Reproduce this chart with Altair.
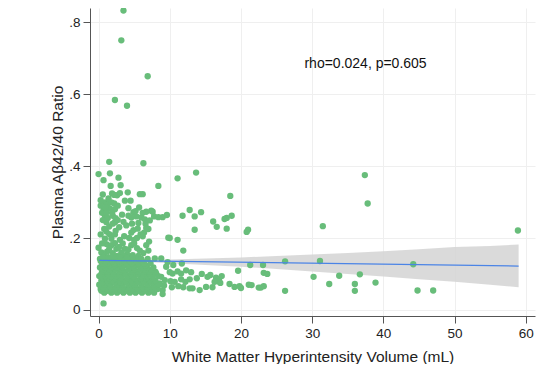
import altair as alt
import pandas as pd

FONT = "Liberation Sans"

# ---- scatter points: WMH volume (mL) and plasma Abeta42/40 ratio ----
high_x = [3.5, 3.2, 6.9, 2.3, 4.0, 1.5, 6.3, 0.0, 1.6, 2.8, 0.7, 8.4, 11.1, 13.7, 1.7, 3.1,
          0.6, 1.9, 2.6, 4.1, 5.8, 6.2, 18.5, 3.0, 2.2]
high_y = [0.833, 0.75, 0.65, 0.584, 0.568, 0.412, 0.408, 0.378, 0.380, 0.368, 0.361, 0.345, 0.366, 0.382, 0.345, 0.347,
          0.321, 0.324, 0.319, 0.327, 0.322, 0.322, 0.317, 0.325, 0.320]

mid_x = [0.9, 1.3, 1.8, 2.2, 3.7, 4.5,
         0.7, 1.6, 2.3, 4.2, 4.9, 7.4, 6.7, 7.6,
         0.9, 1.3, 2.0, 2.4, 4.2, 4.6, 5.3, 6.0, 6.5, 7.2, 8.4,
         1.1, 2.3, 4.7, 5.6, 0.5, 1.1, 1.9,
         0.8, 1.1, 1.5, 2.4, 2.9, 4.6, 4.9, 5.5, 6.4, 6.7, 7.0,
         0.9, 1.8, 2.3, 3.0, 5.0, 5.4, 5.9, 6.2,
         1.1, 1.8, 2.3, 0.0, 4.6, 5.0, 3.7, 2.5, 5.8, 6.7, 7.1,
         0.4, 1.2, 2.0, 3.2, 4.0, 6.3, 7.0,
         9.0, 9.6, 9.8, 11.1, 11.9, 10.0,
         11.8, 12.8, 13.5, 14.4, 13.5, 16.1, 16.6, 17.7, 18.0, 18.7, 18.0, 21.0, 20.8,
         0.3, 0.6, 0.3, 0.5, 1.5, 2.0, 2.7, 3.3, 3.5, 3.9, 5.2, 5.7, 6.2, 6.6, 7.8,
         3.6, 4.3, 3.4, 2.9, 4.2, 5.4, 1.5, 0.8, 2.6, 3.6, 4.8, 5.6, 1.4, 0.3, 2.7, 1.0]
mid_y = [0.299, 0.295, 0.299, 0.296, 0.304, 0.304,
         0.280, 0.282, 0.280, 0.283, 0.272, 0.276, 0.273, 0.273,
         0.262, 0.256, 0.262, 0.255, 0.262, 0.257, 0.260, 0.257, 0.252, 0.249, 0.258,
         0.244, 0.244, 0.240, 0.242, 0.270, 0.270, 0.270,
         0.225, 0.218, 0.211, 0.220, 0.230, 0.215, 0.222, 0.226, 0.215, 0.228, 0.225,
         0.198, 0.198, 0.210, 0.195, 0.195, 0.200, 0.210, 0.205,
         0.183, 0.180, 0.186, 0.173, 0.180, 0.185, 0.170, 0.170, 0.165, 0.180, 0.190,
         0.160, 0.162, 0.158, 0.160, 0.155, 0.158, 0.165,
         0.258, 0.264, 0.201, 0.195, 0.165, 0.200,
         0.262, 0.278, 0.260, 0.272, 0.223, 0.246, 0.231, 0.253, 0.256, 0.262, 0.226, 0.223, 0.217,
         0.290, 0.250, 0.210, 0.185, 0.232, 0.240, 0.250, 0.265, 0.245, 0.235, 0.275, 0.285, 0.270, 0.240, 0.260,
         0.205, 0.200, 0.185, 0.175, 0.168, 0.172, 0.170, 0.150, 0.150, 0.150, 0.152, 0.150, 0.310, 0.305, 0.290, 0.285]

far_x = [37.4, 37.8, 31.5, 58.9,
         26.2, 31.1, 44.2, 23.1, 21.3, 23.2, 23.7, 30.2, 33.8, 36.7, 32.4, 36.0, 36.0, 38.9, 26.2,
         21.5, 22.8, 23.2, 44.8, 47.0,
         19.6, 15.7, 16.5, 16.9, 17.3, 16.8, 16.3, 17.1, 18.4, 19.1, 19.8, 20.0, 21.1, 22.5, 16.0,
         14.2, 13.2, 15.1, 15.3, 11.7]
far_y = [0.375, 0.296, 0.233, 0.221,
         0.135, 0.136, 0.127, 0.125, 0.125, 0.103, 0.100, 0.092, 0.095, 0.099, 0.072, 0.072, 0.053, 0.076, 0.053,
         0.069, 0.062, 0.066, 0.054, 0.054,
         0.109, 0.097, 0.090, 0.085, 0.094, 0.080, 0.078, 0.075, 0.072, 0.064, 0.066, 0.061, 0.070, 0.062, 0.063,
         0.055, 0.060, 0.064, 0.092, 0.129]

low_x = [8.8, 9.7, 7.9, 7.6, 8.1, 8.8, 7.9, 8.6, 9.3, 8.1, 9.0, 9.0,
         10.0, 10.4, 11.1, 11.6, 12.3, 13.0,
         10.1, 10.7, 11.6, 12.2, 12.8,
         10.3, 11.2, 11.9, 12.8, 9.5, 10.5, 9.2, 13.8, 14.5, 0.7]
low_y = [0.143, 0.133, 0.143, 0.110, 0.101, 0.092, 0.078, 0.074, 0.083, 0.060, 0.055, 0.044,
         0.105, 0.101, 0.107, 0.101, 0.110, 0.105,
         0.080, 0.078, 0.085, 0.078, 0.085,
         0.063, 0.066, 0.063, 0.060, 0.120, 0.125, 0.068, 0.088, 0.100, 0.018]

# dense cluster, read row by row
blob_rows = {
    0.048: [0.8, 1.8, 2.6, 3.5, 4.4, 5.2, 6.1, 7.0, 7.8],
    0.053: [0.4, 1.3, 2.2, 3.1, 4.0, 4.8, 5.6, 6.5, 7.4],
    0.058: [0.3, 1.2, 2.1, 3.0, 3.9, 4.8, 5.7, 6.5, 7.4, 8.3],
    0.064: [0.6, 1.6, 2.5, 3.4, 4.3, 5.2, 6.1, 6.9, 7.8],
    0.070: [0.1, 0.9, 1.7, 2.6, 3.4, 4.3, 5.1, 6.0, 6.9, 7.7, 8.5],
    0.076: [0.5, 1.4, 2.2, 3.1, 4.0, 4.8, 5.8, 6.6, 7.5],
    0.082: [0.4, 1.2, 2.0, 2.9, 3.8, 4.6, 5.5, 6.3, 7.2, 8.0],
    0.088: [0.6, 1.5, 2.4, 3.2, 4.1, 5.0, 5.9, 6.7, 7.6],
    0.094: [0.1, 0.9, 1.7, 2.5, 3.3, 4.2, 5.0, 5.9, 6.8, 7.6, 8.4],
    0.100: [0.4, 1.3, 2.1, 2.9, 3.7, 4.6, 5.5, 6.3, 7.2],
    0.106: [0.5, 1.3, 2.1, 3.0, 3.8, 4.7, 5.5, 6.4, 7.2, 8.0],
    0.112: [0.7, 1.6, 2.4, 3.3, 4.2, 5.0, 5.9, 6.6, 7.5],
    0.118: [0.2, 1.0, 1.8, 2.6, 3.4, 4.3, 5.1, 6.0, 6.8, 7.7],
    0.124: [0.6, 1.5, 2.3, 3.2, 4.0, 4.9, 5.7, 6.6],
    0.130: [0.5, 1.3, 2.2, 3.0, 3.9, 4.7, 5.6, 6.4, 7.3],
    0.136: [0.3, 1.1, 1.9, 2.8, 3.6, 4.4, 5.3, 6.1],
    0.142: [0.2, 1.0, 1.8, 2.6, 3.5, 4.3, 5.2, 6.0, 6.9],
    0.147: [0.6, 1.4, 2.2, 3.0, 4.0, 4.8],
}

# ---- fitted line and its confidence band ----
fit_x = [0.1, 59.0]
fit_y = [0.138, 0.122]
band_x = [0.1, 3, 6, 10, 15, 20, 25, 30, 35, 40, 45, 50, 55, 59]
band_lo = [0.133, 0.134, 0.134, 0.130, 0.125, 0.120, 0.114, 0.107, 0.100, 0.093, 0.085, 0.078, 0.070, 0.063]
band_hi = [0.143, 0.140, 0.140, 0.140, 0.143, 0.146, 0.150, 0.154, 0.158, 0.163, 0.169, 0.175, 0.178, 0.182]

annot_text = ["rho=0.024, p=0.605"]
annot_x = [37.5]
annot_y = [0.685]

x_ticks = [0, 10, 20, 30, 40, 50, 60]
y_ticks = [0, 0.2, 0.4, 0.6, 0.8]

pts_x = high_x + mid_x + far_x + low_x
pts_y = high_y + mid_y + far_y + low_y
for yv, xs in blob_rows.items():
    pts_x += xs
    pts_y += [yv] * len(xs)

pts = pd.DataFrame({"wmh": pts_x, "ratio": pts_y})
fit = pd.DataFrame({"wmh": fit_x, "ratio": fit_y})
band = pd.DataFrame({"wmh": band_x, "lo": band_lo, "hi": band_hi})
annot = pd.DataFrame({"wmh": annot_x, "ratio": annot_y, "t": annot_text})

xscale = alt.Scale(domain=[-1.2, 61.3], nice=False, zero=False)
yscale = alt.Scale(domain=[-0.017, 0.84], nice=False, zero=False)

xaxis = alt.Axis(values=x_ticks, title="White Matter Hyperintensity Volume (mL)",
                 format="d", titleY=40, titleBaseline="middle")
yaxis = alt.Axis(values=y_ticks, title="Plasma Aβ42/40 Ratio",
                 labelExpr="datum.value == 0 ? '0' : substring(format(datum.value, '.1f'), 1)",
                 titleX=-33, titleBaseline="middle", titleAngle=-90)

band_layer = alt.Chart(band).mark_area(color="#d4d4d4", opacity=0.85).encode(
    x=alt.X("wmh:Q", scale=xscale, axis=xaxis),
    y=alt.Y("lo:Q", scale=yscale, axis=yaxis),
    y2="hi:Q",
)

pt_layer = alt.Chart(pts).mark_circle(size=40, color="#68bd7a", opacity=1).encode(
    x=alt.X("wmh:Q", scale=xscale),
    y=alt.Y("ratio:Q", scale=yscale),
)

line_layer = alt.Chart(fit).mark_line(color="#4b84e6", strokeWidth=1.3).encode(
    x=alt.X("wmh:Q", scale=xscale),
    y=alt.Y("ratio:Q", scale=yscale),
)

text_layer = alt.Chart(annot).mark_text(font=FONT, fontSize=14, color="#111111",
                                        align="center", baseline="middle").encode(
    x=alt.X("wmh:Q", scale=xscale),
    y=alt.Y("ratio:Q", scale=yscale),
    text="t:N",
)

chart = alt.layer(band_layer, pt_layer, line_layer, text_layer).properties(
    width=445, height=308,
    autosize=alt.AutoSizeParams(type="none"),
    padding={"left": 82, "top": 0, "right": 10, "bottom": 48},
).configure_view(stroke=None).configure_axis(
    labelFont=FONT, titleFont=FONT, labelFontSize=13.5, titleFontSize=15.5,
    labelColor="#222222", titleColor="#222222", titleFontWeight="normal",
    domainColor="#555555", tickColor="#555555", tickSize=7, labelPadding=3,
    gridColor="#efefef", gridWidth=1,
)

chart.save("out.html", embed_options={"renderer": "svg", "actions": False})
